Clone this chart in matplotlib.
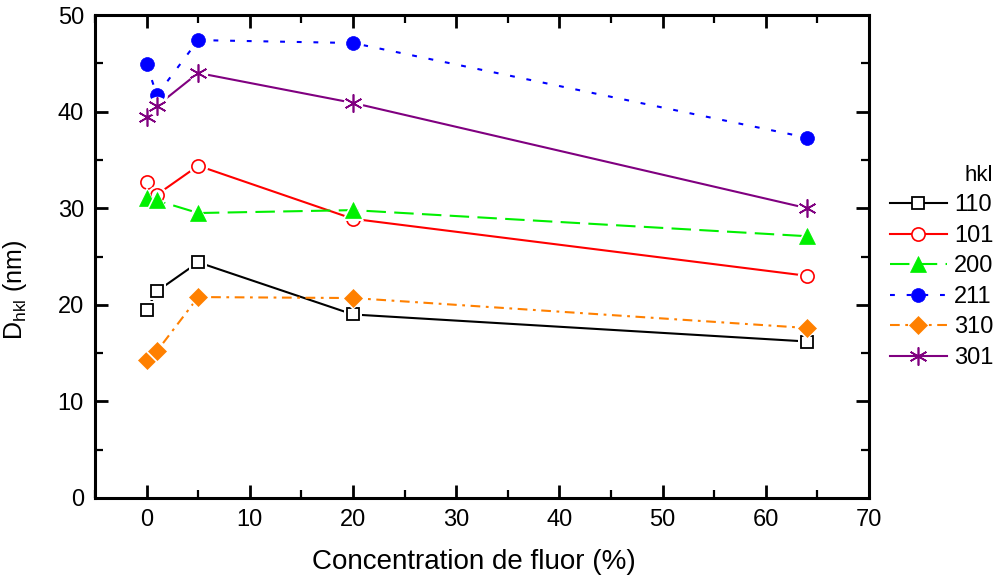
import matplotlib
matplotlib.use('Agg')
import matplotlib.pyplot as plt
from matplotlib.lines import Line2D
from matplotlib.ticker import MultipleLocator, FixedLocator

# ---------------- data ----------------
conc = [0, 1, 5, 20, 64]
d110 = [19.5, 21.4, 24.4, 19.0, 16.2]
d101 = [32.7, 31.4, 34.4, 28.9, 23.0]
d200 = [31.1, 30.8, 29.5, 29.8, 27.1]
d211 = [44.9, 41.7, 47.4, 47.1, 37.3]
d310 = [14.3, 15.2, 20.8, 20.7, 17.6]
d301 = [39.4, 40.6, 44.0, 40.9, 30.0]
series_labels = ['110', '101', '200', '211', '310', '301']
x_ticks = [0, 10, 20, 30, 40, 50, 60, 70]
y_ticks = [0, 10, 20, 30, 40, 50]

# ---------------- styles ----------------
plt.rcParams['font.family'] = ['Liberation Sans', 'DejaVu Sans']
plt.rcParams['lines.scale_dashes'] = False

styles = [
    dict(color='black', marker='s', ms=8.5, mfc='white', mec='black', mew=1.3, ls='-', dashes=None, halo='s', hms=13),
    dict(color='#ff0000', marker='o', ms=9.5, mfc='white', mec='#ff0000', mew=1.2, ls='-', dashes=None, halo='o', hms=14),
    dict(color='#00f000', marker='^', ms=11, mfc='#00f000', mec='#00f000', mew=0.5, ls='--', dashes=(14, 6), halo='^', hms=16),
    dict(color='#0000ff', marker='o', ms=10, mfc='#0000ff', mec='#0000ff', mew=0.5, ls='--', dashes=(3.5, 8.5), halo='o', hms=15),
    dict(color='#ff8000', marker='D', ms=9, mfc='#ff8000', mec='#ff8000', mew=0.5, ls='-.', dashes=(7, 4, 2, 4), halo='D', hms=12),
    dict(color='#800080', marker=(6, 2, 0), ms=13, mfc='#800080', mec='#800080', mew=1.2, ls='-', dashes=None, halo='o', hms=14),
]
data = [d110, d101, d200, d211, d310, d301]

fig = plt.figure(figsize=(9.94, 5.83), dpi=100)
ax = fig.add_axes([95/994, 1 - 498/583, (869-95)/994, (498-15)/583])

handles = []
for ys, st, lab in zip(data, styles, series_labels):
    kw = dict(color=st['color'], lw=1.5, ls=st['ls'], zorder=2)
    if st['dashes'] is not None:
        kw['dashes'] = st['dashes']
    ax.plot(conc, ys, **kw)
    for xv, yv in zip(conc, ys):
        ax.plot([xv], [yv], ls='none', marker=st['halo'], ms=st['hms'],
                mfc='white', mec='white', mew=0, zorder=3)
        ax.plot([xv], [yv], ls='none', marker=st['marker'], ms=st['ms'],
                mfc=st['mfc'], mec=st['mec'], mew=st['mew'], zorder=3)
    hkw = dict(color=st['color'], lw=1.5, ls=st['ls'], marker=st['marker'], ms=st['ms'],
               mfc=st['mfc'], mec=st['mec'], mew=st['mew'])
    if st['dashes'] is not None:
        hkw['dashes'] = st['dashes']
    handles.append(Line2D([], [], **hkw))

ax.set_xlim(-5, 70)
ax.set_ylim(0, 50)
ax.xaxis.set_major_locator(FixedLocator(x_ticks))
ax.yaxis.set_major_locator(FixedLocator(y_ticks))
ax.xaxis.set_minor_locator(MultipleLocator(5))
ax.yaxis.set_minor_locator(MultipleLocator(5))

for sp in ax.spines.values():
    sp.set_linewidth(2.2)

ax.tick_params(which='both', direction='in', top=True, right=True)
ax.tick_params(which='major', length=9.5, width=2.0)
ax.tick_params(which='minor', length=6, width=1.6)
ax.tick_params(axis='x', which='major', labelsize=17, pad=8)
ax.tick_params(axis='y', which='major', labelsize=17, pad=8)

ax.set_xlabel('Concentration de fluor (%)', fontsize=20)
ax.set_ylabel(r'$\mathregular{D_{hkl}}$ (nm)', fontsize=18)
ax.yaxis.set_label_coords(-0.085, 0.43)
ax.xaxis.set_label_coords(0.49, -0.105)

leg = ax.legend(handles, series_labels, loc='upper left',
                bbox_to_anchor=(890/994, 1 - 165/583), bbox_transform=fig.transFigure,
                frameon=False, fontsize=17, title='hkl', title_fontsize=16,
                alignment='right', borderpad=0, borderaxespad=0,
                handlelength=2.4, handletextpad=0.3, labelspacing=0.36)

fig.savefig('out.png', dpi=100)
